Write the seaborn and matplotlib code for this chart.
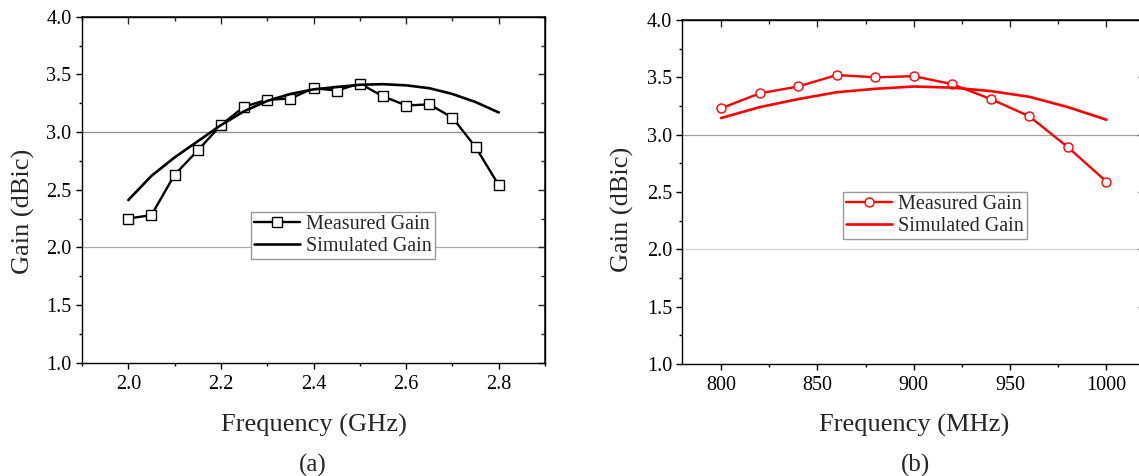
import matplotlib
matplotlib.use("Agg")
import matplotlib.pyplot as plt
from matplotlib.ticker import MultipleLocator, FormatStrFormatter
import seaborn as sns
import pandas as pd

## Panel (a) data, 2.0 - 2.8 GHz
freq_ghz = [2.0, 2.05, 2.1, 2.15, 2.2, 2.25, 2.3, 2.35, 2.4,
            2.45, 2.5, 2.55, 2.6, 2.65, 2.7, 2.75, 2.8]
meas_a = [2.25, 2.28, 2.63, 2.84, 3.06, 3.22, 3.28, 3.29, 3.38,
          3.36, 3.42, 3.31, 3.23, 3.24, 3.125, 2.87, 2.54]
sim_a = [2.41, 2.62, 2.78, 2.92, 3.06, 3.18, 3.27, 3.33, 3.37,
         3.39, 3.41, 3.415, 3.405, 3.38, 3.33, 3.26, 3.17]

## Panel (b) data, 800 - 1000 MHz
freq_mhz = [800, 820, 840, 860, 880, 900, 920, 940, 960, 980, 1000]
meas_b = [3.23, 3.36, 3.42, 3.52, 3.50, 3.51, 3.44, 3.31, 3.16, 2.89, 2.59]
sim_b = [3.145, 3.24, 3.31, 3.37, 3.40, 3.42, 3.41, 3.38, 3.33, 3.24, 3.13]

df_a = pd.DataFrame({"freq": freq_ghz, "meas": meas_a, "sim": sim_a})
df_b = pd.DataFrame({"freq": freq_mhz, "meas": meas_b, "sim": sim_b})

sns.set_theme(style="white")
plt.rcParams["font.family"] = ["Liberation Serif", "DejaVu Serif"]

fig = plt.figure(figsize=(11.39, 4.76), dpi=100)
ax1 = fig.add_axes([0.0720, 0.2380, 0.4065, 0.7269])
ax2 = fig.add_axes([0.5992, 0.2353, 0.4061, 0.7227])


def style_axes(ax, xlim, xmaj, xmin, grid_colors):
    ax.set_xlim(*xlim)
    ax.set_ylim(1.0, 4.0)
    ax.xaxis.set_major_locator(MultipleLocator(xmaj))
    ax.xaxis.set_minor_locator(MultipleLocator(xmin))
    ax.yaxis.set_major_locator(MultipleLocator(0.5))
    ax.yaxis.set_minor_locator(MultipleLocator(0.25))
    ax.yaxis.set_major_formatter(FormatStrFormatter("%.1f"))
    for s in ax.spines.values():
        s.set_color("black")
        s.set_linewidth(1.0)
    ax.tick_params(which="both", direction="out", colors="black",
                   labelsize=14.5, top=False, right=False, bottom=True, left=True)
    ax.tick_params(which="major", length=4.5, width=1.0)
    ax.tick_params(axis="x", which="major", pad=4.5)
    ax.tick_params(axis="y", which="major", pad=3)
    ax.tick_params(which="minor", length=2.5, width=1.0)
    # inward ticks on the top and right spines
    top = ax.secondary_xaxis("top")
    top.xaxis.set_major_locator(MultipleLocator(xmaj))
    top.xaxis.set_minor_locator(MultipleLocator(xmin))
    top.tick_params(which="both", direction="in", labeltop=False, width=1.0)
    top.tick_params(which="major", length=5)
    top.tick_params(which="minor", length=3)
    right = ax.secondary_yaxis("right")
    right.yaxis.set_major_locator(MultipleLocator(0.5))
    right.yaxis.set_minor_locator(MultipleLocator(0.25))
    right.tick_params(which="both", direction="in", labelright=False, width=1.0)
    right.tick_params(which="major", length=5)
    right.tick_params(which="minor", length=3)
    ax.axhline(3.0, color=grid_colors[0], lw=0.9, zorder=0)
    ax.axhline(2.0, color=grid_colors[1], lw=0.9, zorder=0)


# (a)
sns.lineplot(data=df_a, x="freq", y="meas", ax=ax1, color="black", lw=1.7,
             marker="s", markersize=6.5, markerfacecolor="white",
             markeredgecolor="black", markeredgewidth=1.0, label="Measured Gain")
sns.lineplot(data=df_a, x="freq", y="sim", ax=ax1, color="black", lw=1.9,
             label="Simulated Gain")
style_axes(ax1, (1.9, 2.9), 0.2, 0.1, ("#8c8c8c", "#a8a8a8"))
ax1.set_xlabel("Frequency (GHz)", fontsize=19)
ax1.set_ylabel("Gain (dBic)", fontsize=19)
ax1.xaxis.set_label_coords(0.5, -0.182)
ax1.xaxis.label.set_va("center")
ax1.yaxis.set_label_coords(-0.127, 0.438)
ax1.yaxis.label.set_va("center")
ax1.legend(loc="upper left", bbox_to_anchor=(0.364, 0.435), borderaxespad=0,
           fontsize=14.5, frameon=True, fancybox=False, framealpha=1,
           edgecolor="#999999", labelspacing=0.12, handlelength=2.3,
           handletextpad=0.3, borderpad=0.15)

# (b)
sns.lineplot(data=df_b, x="freq", y="meas", ax=ax2, color="#ff0000", lw=1.7,
             marker="o", markersize=6.5, markerfacecolor="white",
             markeredgecolor="#ff0000", markeredgewidth=1.0, label="Measured Gain")
sns.lineplot(data=df_b, x="freq", y="sim", ax=ax2, color="#ff0000", lw=1.9,
             label="Simulated Gain")
style_axes(ax2, (780, 1020), 50, 25, ("#a0a0a0", "#d4d4d4"))
ax2.set_xlabel("Frequency (MHz)", fontsize=19)
ax2.set_ylabel("Gain (dBic)", fontsize=19)
ax2.xaxis.set_label_coords(0.5, -0.179)
ax2.xaxis.label.set_va("center")
ax2.yaxis.set_label_coords(-0.129, 0.45)
ax2.yaxis.label.set_va("center")
ax2.legend(loc="upper left", bbox_to_anchor=(0.347, 0.5), borderaxespad=0,
           fontsize=14.5, frameon=True, fancybox=False, framealpha=1,
           edgecolor="#999999", labelspacing=0.12, handlelength=2.3,
           handletextpad=0.3, borderpad=0.15)

fig.text(313 / 1139, 1 - 465 / 476, "(a)", ha="center", va="center", fontsize=18)
fig.text(915 / 1139, 1 - 465 / 476, "(b)", ha="center", va="center", fontsize=18)

fig.savefig("out.png", dpi=100)
